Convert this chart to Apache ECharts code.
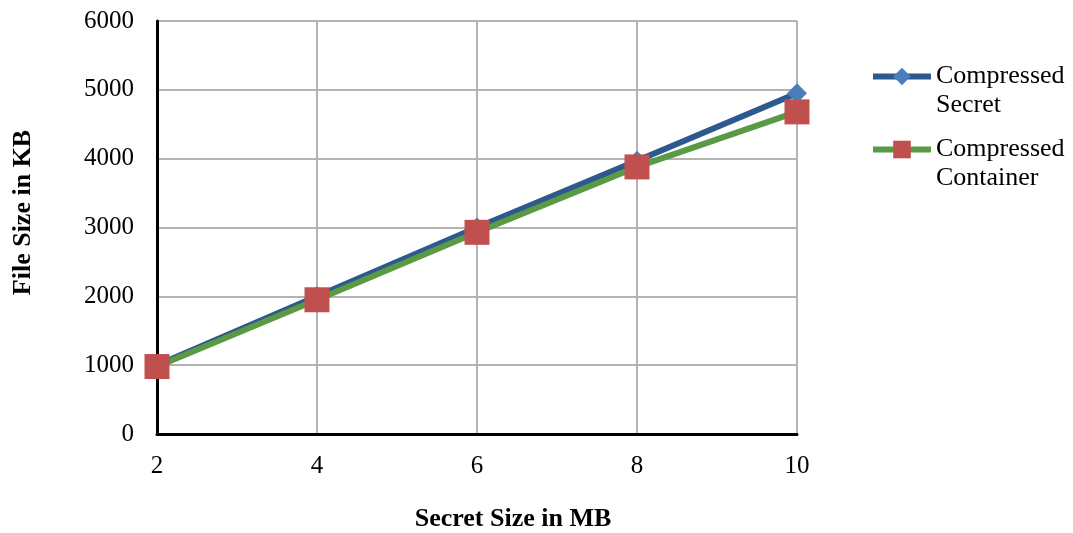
<!DOCTYPE html>
<html><head><meta charset="utf-8">
<script src="https://cdn.jsdelivr.net/npm/echarts@6/dist/echarts.min.js"></script>
<style>html,body{margin:0;padding:0;background:#fff}#c{width:1073px;height:533px}</style>
</head><body><div id="c"></div>
<script>
const secretSizes = [2, 4, 6, 8, 10];
const compressedSecret = [1000, 2000, 3000, 3970, 4950];
const compressedContainer = [980, 1950, 2930, 3880, 4680];
const seriesNames = ['Compressed Secret', 'Compressed Container'];
const xTitle = 'Secret Size in MB';
const yTitle = 'File Size in KB';

const font = 'Liberation Serif';
const chart = echarts.init(document.getElementById('c'), null, {renderer: 'canvas'});
chart.setOption({
  animation: false,
  backgroundColor: '#fff',
  grid: {left: 157, right: 276, top: 21, bottom: 99, containLabel: false, outerBoundsMode: 'none'},
  xAxis: {
    type: 'value', min: 2, max: 10, interval: 2,
    name: xTitle, nameLocation: 'middle', nameGap: 72,
    nameTextStyle: {fontFamily: font, fontSize: 26, fontWeight: 'bold', color: '#000', padding: [0, 0, 0, 72]},
    axisLine: {show: true, lineStyle: {color: '#000', width: 3}},
    axisTick: {show: false},
    axisLabel: {fontFamily: font, fontSize: 25, color: '#000', margin: 20, formatter: v => String(v)},
    splitLine: {show: true, lineStyle: {color: '#b3b3b3', width: 2}}
  },
  yAxis: {
    type: 'value', min: 0, max: 6000, interval: 1000,
    name: yTitle, nameLocation: 'middle', nameGap: 121,
    nameTextStyle: {fontFamily: font, fontSize: 26, fontWeight: 'bold', color: '#000', padding: [0, 0, 0, 30]},
    axisLine: {show: true, lineStyle: {color: '#000', width: 3}},
    axisTick: {show: false},
    axisLabel: {fontFamily: font, fontSize: 25, color: '#000', margin: 23, formatter: v => String(v)},
    splitLine: {show: true, lineStyle: {color: '#b3b3b3', width: 2}}
  },
  legend: {
    orient: 'vertical', left: 870, top: 33, padding: 0, itemWidth: 58, itemHeight: 22, itemGap: -14,
    lineStyle: {width: 6},
    formatter: name => {
      const parts = name.split(' ');
      return ' \n' + parts[0] + '\n' + parts.slice(1).join(' ');
    },
    textStyle: {fontFamily: font, fontSize: 26, color: '#000', lineHeight: 29},
    data: seriesNames
  },
  series: [
    {
      name: seriesNames[0], type: 'line',
      data: secretSizes.map((x, i) => [x, compressedSecret[i]]),
      lineStyle: {color: '#2d5a8e', width: 6},
      itemStyle: {color: '#4a7ebb'},
      symbol: 'diamond', symbolSize: 20, showSymbol: true
    },
    {
      name: seriesNames[1], type: 'line',
      data: secretSizes.map((x, i) => [x, compressedContainer[i]]),
      lineStyle: {color: '#5b9a44', width: 6},
      itemStyle: {color: '#c0504d'},
      symbol: 'rect', symbolSize: 25, showSymbol: true
    }
  ]
});
</script></body></html>
